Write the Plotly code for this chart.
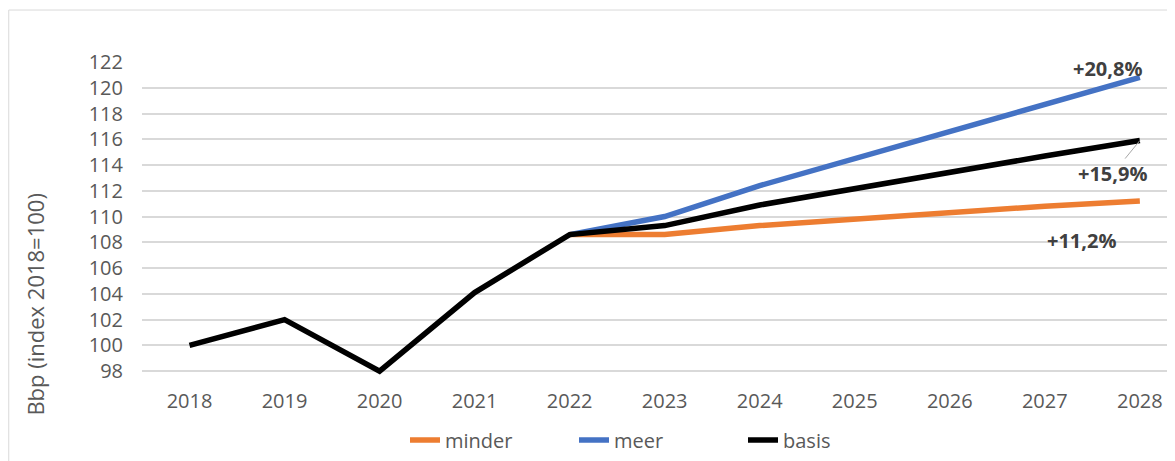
import plotly.graph_objects as go

years = ["2018", "2019", "2020", "2021", "2022", "2023", "2024", "2025", "2026", "2027", "2028"]
basis = [100.0, 102.0, 98.0, 104.1, 108.6, 109.3, 110.9, 112.2, 113.4, 114.7, 115.9]
meer = [None, None, None, None, 108.6, 110.0, 112.4, 114.5, 116.6, 118.7, 120.8]
minder = [None, None, None, None, 108.6, 108.6, 109.3, 109.8, 110.4, 110.8, 111.2]
y_ticks = list(range(98, 124, 2))

FONT = "Open Sans"
GREY = "#595959"

fig = go.Figure()
fig.add_trace(go.Scatter(x=years, y=minder, mode="lines", name="minder",
                         line=dict(color="#ED7D31", width=5.5)))
fig.add_trace(go.Scatter(x=years, y=meer, mode="lines", name="meer",
                         line=dict(color="#4472C4", width=5.5)))
fig.add_trace(go.Scatter(x=years, y=basis, mode="lines", name="basis",
                         line=dict(color="#000000", width=5.5)))

# end labels; numeric-looking categories must be addressed by index
last = len(years) - 1
label_font = dict(family=FONT, size=20, color="#404040", weight="bold")
fig.add_annotation(x=last, y=meer[-1], text="+20,8%", showarrow=False,
                   xshift=-32, yshift=9, font=label_font)
fig.add_annotation(x=last, y=basis[-1], text="+15,9%", showarrow=True,
                   arrowhead=0, arrowwidth=1, arrowcolor="#a6a6a6",
                   ax=-27, ay=33, font=label_font)
fig.add_annotation(x=last, y=minder[-1], text="+11,2%", showarrow=False,
                   xshift=-58, yshift=-39, font=label_font)

# y-axis title placed like the original (not centred on the plot)
fig.add_annotation(xref="paper", yref="paper", x=-0.1036, y=0.228,
                   xanchor="center", yanchor="middle",
                   text="Bbp (index 2018=100)", textangle=-90, showarrow=False,
                   font=dict(family=FONT, size=22, color=GREY))

# chart frame
fig.add_shape(type="rect", xref="paper", yref="paper", x0=-0.129, y0=-0.5,
              x1=1.2, y1=1.166, line=dict(color="#d9d9d9", width=1), layer="below")

fig.update_layout(
    width=1167,
    height=453,
    margin=dict(l=134, r=0, t=54, b=86),
    plot_bgcolor="white",
    paper_bgcolor="white",
    font=dict(family=FONT, size=20, color=GREY),
    showlegend=True,
    legend=dict(orientation="h", x=0.2546, xanchor="left", y=-0.2077, yanchor="middle",
                font=dict(family=FONT, size=20, color=GREY),
                entrywidth=124, entrywidthmode="pixels"),
    xaxis=dict(type="category", range=[-0.5, 10.37], showgrid=False, zeroline=False,
               showline=False, ticks="", ticklabelstandoff=12,
               tickfont=dict(family=FONT, size=20, color=GREY)),
    yaxis=dict(range=[97.7, 122], tickvals=y_ticks, showgrid=True, gridcolor="#d9d9d9",
               gridwidth=1.5, zeroline=False, showline=False, ticks="",
               ticklabelstandoff=18, tickfont=dict(family=FONT, size=20, color=GREY)),
)

fig.write_html("out.html")
